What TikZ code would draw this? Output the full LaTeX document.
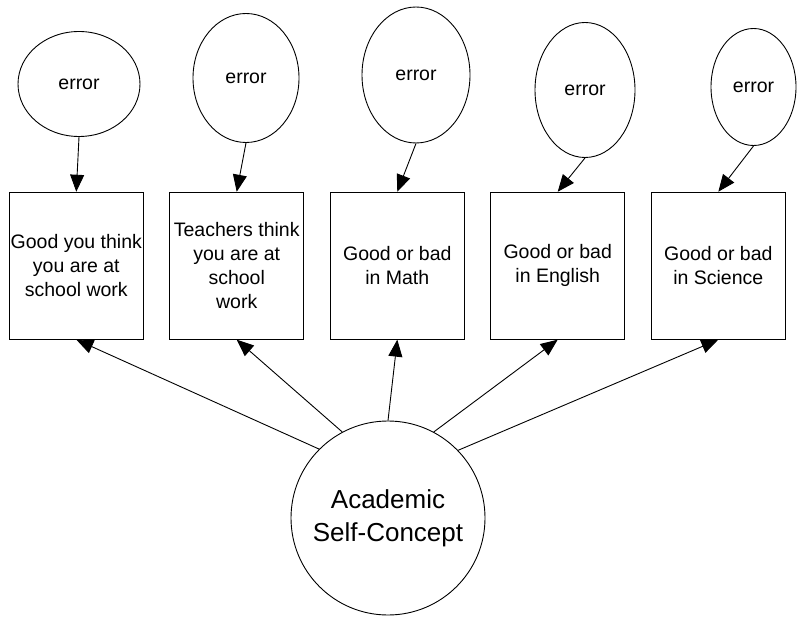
\documentclass[tikz,border=0pt]{standalone}
\usepackage{fontspec}
\setmainfont{Liberation Sans}
\usetikzlibrary{shapes.geometric,arrows.meta}
\begin{document}
\begin{tikzpicture}[x=1pt,y=-1pt,
  errnode/.style={draw, ellipse, inner sep=0pt, line width=0.9pt,
    font=\fontsize{19.5}{24}\selectfont},
  indicator/.style={draw, rectangle, minimum width=134pt, minimum height=147pt,
    inner sep=0pt, align=center, line width=0.9pt,
    font=\fontsize{19.5}{24}\selectfont},
  latentnode/.style={draw, circle, minimum size=194pt, inner sep=0pt,
    align=center, line width=0.9pt, font=\fontsize{26}{33}\selectfont},
  link/.style={-{Triangle[length=17pt,width=14pt]}, line width=0.9pt}]
\useasboundingbox (0,0) rectangle (797,617);

% error terms
\node[errnode, minimum width=122pt, minimum height=105pt] (e1) at (79,84) {error};
\node[errnode, minimum width=106pt, minimum height=129pt] (e2) at (246,78) {error};
\node[errnode, minimum width=108pt, minimum height=136pt] (e3) at (416,75) {error};
\node[errnode, minimum width=100pt, minimum height=135pt] (e4) at (585,90) {error};
\node[errnode, minimum width=85pt, minimum height=117pt] (e5) at (753.5,87) {error};

% observed indicators
\node[indicator] (b1) at (76.3,265.7) {Good you think\\you are at\\school work};
\node[indicator] (b2) at (236.7,265.7) {Teachers think\\you are at\\school\\work};
\node[indicator] (b3) at (397.3,265.7) {Good or bad\\in Math};
\node[indicator] (b4) at (557.7,265.7) {Good or bad\\in English};
\node[indicator] (b5) at (718.3,265.7) {Good or bad\\in Science};

% latent factor
\node[latentnode] (f) at (388,518) {Academic\\Self-Concept};

% error paths
\draw[link] (e1.south) -- (b1.north);
\draw[link] (e2.south) -- (b2.north);
\draw[link] (e3.south) -- (b3.north);
\draw[link] (e4.south) -- (b4.north);
\draw[link] (e5.south) -- (b5.north);

% factor loadings
\draw[link] (f.135.7) -- (b1.south);
\draw[link] (f.118.2) -- (b2.south);
\draw[link] (f.90) -- (b3.south);
\draw[link] (f.62) -- (b4.south);
\draw[link] (f.44.3) -- (b5.south);
\end{tikzpicture}
\end{document}
